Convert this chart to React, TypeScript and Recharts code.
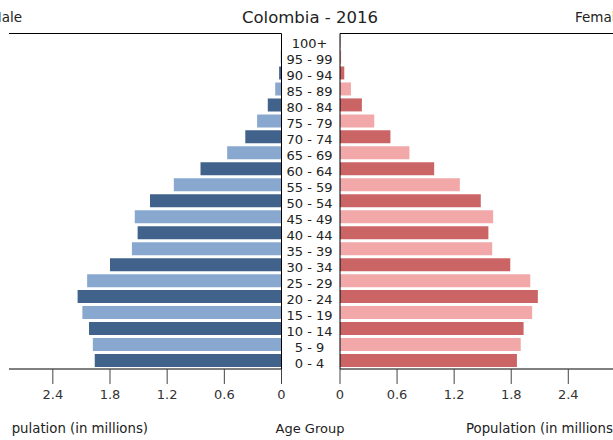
import { BarChart, Bar, XAxis, YAxis, Cell } from 'recharts';

// Age groups, bottom to top
const ageGroups = [
	'0 - 4', '5 - 9', '10 - 14', '15 - 19', '20 - 24', '25 - 29', '30 - 34',
	'35 - 39', '40 - 44', '45 - 49', '50 - 54', '55 - 59', '60 - 64', '65 - 69',
	'70 - 74', '75 - 79', '80 - 84', '85 - 89', '90 - 94', '95 - 99', '100+',
];

// Population in millions
const male = [
	1.96, 1.98, 2.02, 2.09, 2.14, 2.04, 1.80, 1.57, 1.51, 1.54, 1.38,
	1.13, 0.85, 0.57, 0.38, 0.256, 0.144, 0.066, 0.025, 0.008, 0.003,
];
const female = [
	1.86, 1.90, 1.93, 2.02, 2.08, 2.00, 1.79, 1.60, 1.56, 1.61, 1.48,
	1.26, 0.99, 0.73, 0.53, 0.36, 0.23, 0.115, 0.045, 0.012, 0.004,
];

const xTicks = [0, 0.6, 1.2, 1.8, 2.4];

const data = ageGroups.map((age, i) => ({ age, male: male[i], female: female[i] }));

const font = '"DejaVu Sans", sans-serif';
const maleColors = ['#41628b', '#89a8d0'];
const femaleColors = ['#cb6464', '#f2a8a8'];

const AgeTick = (props: any) => {
	const { y, payload } = props;
	return (
		<text x={309.5} y={y} dy={7} textAnchor="middle" fontSize={13} fill="#222" fontFamily={font}>
			{payload.value}
		</text>
	);
};

export default function App() {
	const tickStyle = { fontSize: 13, fill: '#333', fontFamily: font };
	return (
		<div style={{ position: 'absolute', left: 0, top: 0, width: 613, height: 440, background: 'white', overflow: 'hidden' }}>
			{/* male side */}
			<div style={{ position: 'absolute', left: 0, top: 0 }}>
				<BarChart
					width={613}
					height={440}
					data={data}
					layout="vertical"
					barSize={13}
					margin={{ top: 32.5, right: 330.5, left: 9, bottom: 41 }}
				>
					<XAxis
						type="number"
						dataKey="male"
						domain={[0, 2.86]}
						reversed
						ticks={xTicks}
						allowDataOverflow
						height={30}
						tickSize={15}
						tickMargin={6}
						tick={tickStyle}
						axisLine={{ stroke: '#000' }}
						tickLine={{ stroke: '#444' }}
					/>
					<XAxis
						xAxisId="top"
						type="number"
						orientation="top"
						domain={[0, 2.86]}
						reversed
						height={1}
						tick={false}
						tickLine={false}
						axisLine={{ stroke: '#000' }}
					/>
					<YAxis
						type="category"
						dataKey="age"
						reversed
						orientation="right"
						width={1}
						tick={false}
						tickLine={false}
						axisLine={{ stroke: '#000' }}
					/>
					<Bar dataKey="male" isAnimationActive={false}>
						{data.map((d, i) => (
							<Cell key={d.age} fill={maleColors[i % 2]} />
						))}
					</Bar>
				</BarChart>
			</div>
			{/* female side */}
			<div style={{ position: 'absolute', left: 0, top: 0 }}>
				<BarChart
					width={613}
					height={440}
					data={data}
					layout="vertical"
					barSize={13}
					margin={{ top: 32.5, right: 0, left: 339, bottom: 41 }}
				>
					<XAxis
						type="number"
						dataKey="female"
						domain={[0, 2.87]}
						ticks={xTicks}
						allowDataOverflow
						height={30}
						tickSize={15}
						tickMargin={6}
						tick={tickStyle}
						axisLine={{ stroke: '#000' }}
						tickLine={{ stroke: '#444' }}
					/>
					<XAxis
						xAxisId="top"
						type="number"
						orientation="top"
						domain={[0, 2.87]}
						height={1}
						tick={false}
						tickLine={false}
						axisLine={{ stroke: '#000' }}
					/>
					<YAxis
						type="category"
						dataKey="age"
						reversed
						orientation="left"
						width={1}
						tick={<AgeTick />}
						tickLine={false}
						axisLine={{ stroke: '#000' }}
						interval={0}
					/>
					<Bar dataKey="female" isAnimationActive={false}>
						{data.map((d, i) => (
							<Cell key={d.age} fill={femaleColors[i % 2]} />
						))}
					</Bar>
				</BarChart>
			</div>
			{/* titles and labels */}
			<svg width={613} height={440} style={{ position: 'absolute', left: 0, top: 0, pointerEvents: 'none' }}>
				<defs>
					<clipPath id="leftLabelClip">
						<rect x={11} y={400} width={200} height={40} />
					</clipPath>
				</defs>
				<text x={310} y={23} textAnchor="middle" fontSize={16.5} fill="#222" fontFamily={font}>Colombia - 2016</text>
				<text x={-10} y={22} fontSize={13.5} fill="#222" fontFamily={font}>Male</text>
				<text x={575} y={22} fontSize={13.5} fill="#222" fontFamily={font}>Female</text>
				<text x={-4} y={433} fontSize={13.3} fill="#222" fontFamily={font} clipPath="url(#leftLabelClip)">Population (in millions)</text>
				<text x={310} y={433} textAnchor="middle" fontSize={13} fill="#222" fontFamily={font}>Age Group</text>
				<text x={466} y={433} fontSize={13.3} fill="#222" fontFamily={font}>Population (in millions)</text>
			</svg>
		</div>
	);
}
